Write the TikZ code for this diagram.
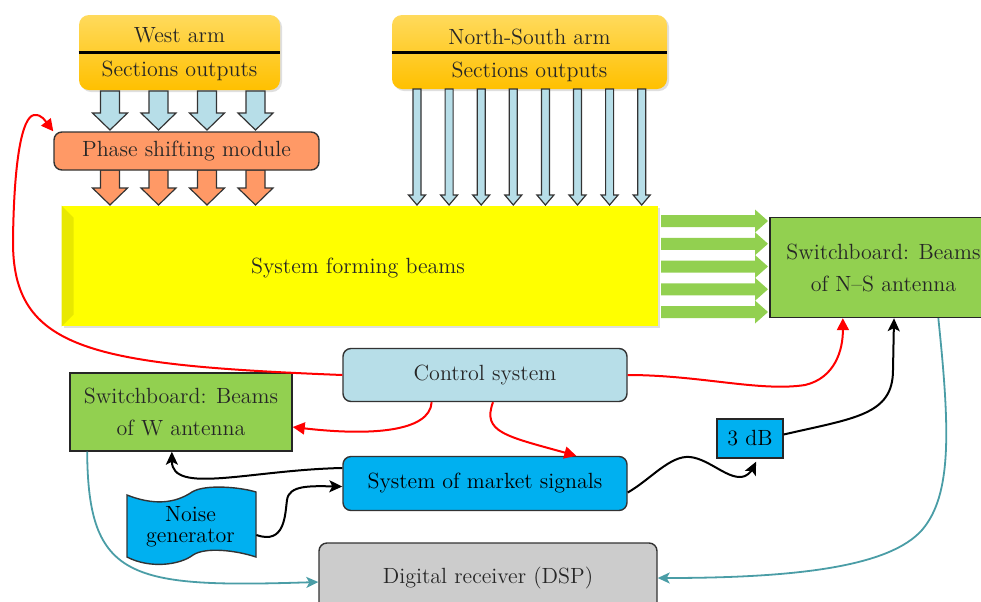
\documentclass[tikz,border=0pt]{standalone}
\usetikzlibrary{arrows.meta,calc,shadows}

\definecolor{armgold}{HTML}{FFC000}
\definecolor{armlight}{HTML}{FFDA5C}
\definecolor{lightcyan}{HTML}{B7DEE8}
\definecolor{salmon}{HTML}{FF9966}
\definecolor{leafgreen}{HTML}{92D050}
\definecolor{skyblue}{HTML}{00B0F0}
\definecolor{palegray}{HTML}{CCCCCC}
\definecolor{tealwire}{HTML}{4A9DA6}
\definecolor{boxedge}{HTML}{333333}
\definecolor{inktext}{HTML}{262626}
\definecolor{beamyellow}{HTML}{FFFF00}
\definecolor{bevelyellow}{HTML}{E8E800}

\tikzset{
  armbox/.style={rounded corners=5pt, top color=armlight, bottom color=armgold, draw=none,
    drop shadow={opacity=0.25, shadow xshift=1pt, shadow yshift=-1pt}},
  armtext/.style={inner sep=0pt, text=inktext, font=\fontsize{11}{16}\selectfont},
  divider/.style={line width=1.5pt, black},
  roundbox/.style={rounded corners=4pt, draw=boxedge, line width=0.7pt, text=inktext,
    font=\fontsize{11}{16}\selectfont, align=center},
  squarebox/.style={draw=black!85, line width=0.7pt, text=inktext,
    font=\fontsize{11}{16}\selectfont, align=center},
  cyanarrow/.style={fill=lightcyan, draw=boxedge, line width=0.6pt},
  salmonarrow/.style={fill=salmon, draw=boxedge, line width=0.6pt},
  redwire/.style={draw=red, line width=1pt, -{Triangle[length=6pt,width=6pt]}},
  blackwire/.style={draw=black, line width=1pt, -{Stealth[length=6.5pt,width=6pt,inset=1.5pt]}},
  tealline/.style={draw=tealwire, line width=0.9pt, -{Stealth[length=6pt,width=5.5pt,inset=1.5pt]}}
}

\begin{document}
\begin{tikzpicture}[x=0.5pt,y=-0.5pt]
  \useasboundingbox (0,0) rectangle (981,601);

  % Arm boxes with their sections outputs
  \node[armbox, minimum width=100.5pt, minimum height=37.5pt] (westarm) at (179.5,52.5) {};
  \node[armtext] (westtitle) at (179.5,35) {West arm};
  \node[armtext] (westsub) at (179.5,71) {Sections outputs};
  \draw[divider] (westarm.west) -- (westarm.east);

  \node[armbox, minimum width=137.5pt, minimum height=37pt] (nsarm) at (529.5,52) {};
  \node[armtext] (nstitle) at (529.5,37) {North-South arm};
  \node[armtext] (nssub) at (529.5,72) {Sections outputs};
  \draw[divider] (nsarm.west) -- (nsarm.east);

  % Wide arrows from the west arm into the phase shifter
  \foreach \x in {110,158.5,207,255.5} {
    \draw[cyanarrow] (\x-9.5,91) -- (\x-9.5,113) -- (\x-17.5,113) -- (\x,130)
      -- (\x+17.5,113) -- (\x+9.5,113) -- (\x+9.5,91) -- cycle;
    \draw[salmonarrow] (\x-9.5,170) -- (\x-9.5,188) -- (\x-17.5,188) -- (\x,205)
      -- (\x+17.5,188) -- (\x+9.5,188) -- (\x+9.5,170) -- cycle;
  }

  \node[roundbox, fill=salmon, minimum width=132.5pt, minimum height=19pt] (phase) at (186.5,151) {Phase shifting module};

  % Thin arrows from the north-south arm
  \foreach \i in {0,...,7} {
    \pgfmathsetmacro\x{417+32.1*\i}
    \draw[cyanarrow] (\x-4,89) -- (\x-4,195) -- (\x-8.5,195) -- (\x,205)
      -- (\x+8.5,195) -- (\x+4,195) -- (\x+4,89) -- cycle;
  }

  % Beam forming block with a bevel on the left
  \node[fill=beamyellow, minimum width=298pt, minimum height=60pt, inner sep=0pt,
    drop shadow={opacity=0.25, shadow xshift=1pt, shadow yshift=-1pt}] (beams) at (360,266) {};
  \fill[bevelyellow] (beams.north west) -- ++(12,12) -- ($(beams.south west)+(12,-12)$) -- (beams.south west) -- cycle;
  \node[armtext] (beamstext) at (358,268) {System forming beams};

  % Green arrows into the N-S switchboard
  \foreach \y in {221,243.75,266.5,289.25,312} {
    \fill[leafgreen] (661,\y-6) -- (755,\y-6) -- (755,\y-11.5) -- (768,\y)
      -- (755,\y+11.5) -- (755,\y+6) -- (661,\y+6) -- cycle;
  }

  \node[squarebox, fill=leafgreen, minimum width=113.5pt, minimum height=50pt] (swns) at (883.5,267.5) {Switchboard: Beams\\of N--S antenna};
  \node[roundbox, fill=lightcyan, minimum width=142pt, minimum height=26.5pt] (control) at (485,375) {Control system};
  \node[squarebox, fill=leafgreen, minimum width=111pt, minimum height=39pt] (sww) at (181,412) {Switchboard: Beams\\of W antenna};
  \node[roundbox, fill=skyblue, text=black, minimum width=142pt, minimum height=27pt] (market) at (485,483.5) {System of market signals};
  \node[squarebox, fill=skyblue, text=black, minimum width=33pt, minimum height=19.5pt] (db) at (750,438.5) {3 dB};
  \node[roundbox, fill=palegray, minimum width=169pt, minimum height=35pt] (digital) at (488,578) {Digital receiver (DSP)};

  % Noise generator drawn as a tape
  \filldraw[fill=skyblue, draw=boxedge, line width=0.7pt]
    (127,495) .. controls (160,508) and (180,500) .. (192,492)
    .. controls (205,484) and (240,487) .. (256,492) -- (256,557)
    .. controls (235,550) and (205,547) .. (193,555)
    .. controls (180,565) and (150,569) .. (127,557) -- cycle;
  \node[inner sep=0pt, minimum width=65.5pt, align=center, text=black,
    font=\fontsize{11}{10.5}\selectfont] (noise) at (190.5,527) {Noise\\generator};

  % Control lines
  \draw[redwire] (control.west) .. controls (90,365) and (12,350) .. (13,240)
    .. controls (14,160) and (22,117) .. (34,115)
    .. controls (42,114) and (46,122) .. (phase.north west);
  \draw[redwire] (control.east) .. controls (700,375) and (760,392) .. (805,385)
    .. controls (835,378) and (843,350) .. ($(swns.south west)!0.322!(swns.south east)$);
  \draw[redwire] ($(control.south west)!0.313!(control.south east)$)
    .. controls (430,432) and (370,436) .. ($(sww.east)+(0,15)$);
  \draw[redwire] ($(control.south west)!0.528!(control.south east)$)
    .. controls (482,432) and (505,436) .. ($(market.north west)!0.82!(market.north east)$);

  % Signal lines
  \draw[blackwire] ($(market.north west)!0.22!(market.south west)$)
    .. controls (250,470) and (172,495) .. ($(sww.south west)!0.459!(sww.south east)$);
  \draw[blackwire] ($(noise.east)+(0,8)$) .. controls (285,545) and (285,515) .. (287,500)
    .. controls (289,485) and (310,486) .. ($(market.west)+(0,3)$);
  \draw[blackwire] ($(market.east)+(0,9)$) .. controls (650,480) and (670,455) .. (690,457)
    .. controls (710,459) and (730,482) .. (745,476)
    .. controls (750,474) and (753,468) .. ($(db.south west)!0.59!(db.south east)+(0,3)$);
  \draw[blackwire] ($(db.east)+(0,-4)$) .. controls (855,418) and (893,415) .. (893,370)
    -- ($(swns.south west)!0.546!(swns.south east)$);

  % Lines to the receiver
  \draw[tealline] ($(sww.south west)!0.08!(sww.south east)$)
    .. controls (88,580) and (130,588) .. ($(digital.west)+(0,4)$);
  \draw[tealline] ($(swns.south west)!0.74!(swns.south east)$)
    .. controls (950,430) and (952,495) .. (922,530)
    .. controls (890,566) and (800,578) .. (digital.east);
\end{tikzpicture}
\end{document}
